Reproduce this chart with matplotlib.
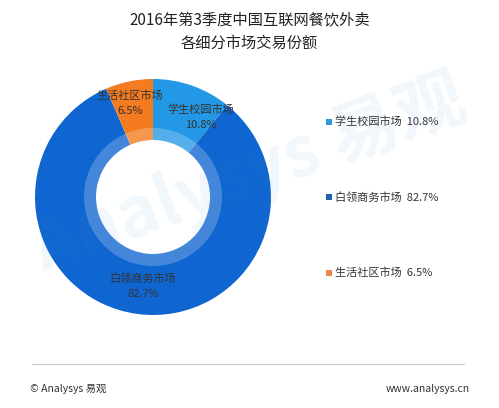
import matplotlib
matplotlib.use("Agg")
import matplotlib.pyplot as plt

plt.rcParams['font.family'] = ['Noto Sans CJK SC', 'DejaVu Sans']

# data
segments = ['学生校园市场', '白领商务市场', '生活社区市场']
shares = [10.8, 82.7, 6.5]
colors = ['#2398e6', '#1066d0', '#f47b20']
legend_colors = ['#2c9bd8', '#1f60b0', '#e8884a']

title = '2016年第3季度中国互联网餐饮外卖\n各细分市场交易份额'

W, H = 499, 408
fig = plt.figure(figsize=(W / 100, H / 100), dpi=100)
ax = fig.add_axes([0, 0, 1, 1])

cx, cy = 153, H - 197
r_out, r_in, r_band = 118, 57, 69

ax.pie(shares, colors=colors, startangle=90, counterclock=False,
       radius=r_out, center=(cx, cy),
       wedgeprops=dict(width=r_out - r_in, linewidth=0))
# lighter inner band
ax.pie(shares, colors=['white'] * 3, startangle=90, counterclock=False,
       radius=r_band, center=(cx, cy),
       wedgeprops=dict(width=r_band - r_in, linewidth=0, alpha=0.22))

ax.set_xlim(0, W)
ax.set_ylim(0, H)
ax.set_aspect('equal')
ax.axis('off')

# slice labels
label_pos = [(201, 117), (143, 286), (130, 103)]
for name, val, (x, y) in zip(segments, shares, label_pos):
    ax.text(x, H - y, f'{name}\n{val}%', ha='center', va='center',
            fontsize=8, color='#333333', linespacing=1.6, zorder=5)

# title
ax.text(W / 2, H - 32, title, ha='center', va='center', fontsize=11,
        color='#222222', linespacing=1.5)

# legend
legend_y = [122, 197, 273]
for name, val, c, y in zip(segments, shares, legend_colors, legend_y):
    ax.scatter([329], [H - y], marker='s', s=22, color=c, linewidths=0)
    ax.text(335, H - y, f'{name}  {val}%', ha='left', va='center',
            fontsize=8, color='#333333')

# watermark
ax.text(250, H - 175, 'Analysys 易观', ha='center', va='center', fontsize=50,
        color='#4a8fd0', alpha=0.07, rotation=20, fontweight='bold', zorder=6)

# footer
ax.plot([32, 464], [H - 364, H - 364], color='#cccccc', lw=0.8)
ax.text(30, H - 389, '© Analysys 易观', ha='left', va='center', fontsize=7.5, color='#333333')
ax.text(470, H - 389, 'www.analysys.cn', ha='right', va='center', fontsize=7.5, color='#333333')

fig.savefig('out.png', dpi=100, facecolor='white')
